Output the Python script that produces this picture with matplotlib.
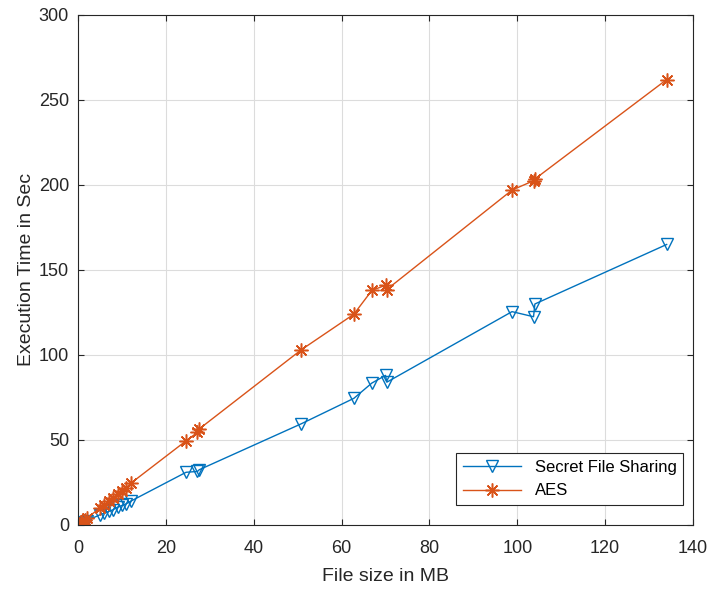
import matplotlib
matplotlib.use('Agg')
import matplotlib.pyplot as plt

# file sizes (MB) and execution times (sec)
file_size = [0.3, 0.6, 1.0, 1.5, 2.0, 5.0, 6.0, 7.0, 8.0, 9.0, 10.0, 11.0, 12.0,
             24.6, 27.2, 27.6, 50.8, 62.8, 66.9, 70.0, 70.3, 98.8, 103.7, 104.0, 134.0]
secret_sharing = [0.4, 0.8, 1.3, 2.0, 2.5, 6.0, 7.0, 8.0, 9.0, 10.5, 11.5, 12.5, 14.0,
                  31.0, 31.5, 32.5, 59.5, 74.5, 83.5, 88.0, 84.0, 125.5, 122.5, 130.0, 165.0]
aes = [0.6, 1.2, 2.0, 3.0, 4.0, 10.0, 12.0, 14.0, 16.0, 18.0, 20.0, 22.0, 24.5,
       49.5, 54.5, 56.5, 103.0, 124.0, 138.0, 141.0, 138.5, 197.0, 202.5, 203.5, 262.0]

plt.rcParams['font.family'] = ['Liberation Sans', 'DejaVu Sans']

fig = plt.figure(figsize=(7.11, 5.92), dpi=100)
ax = fig.add_axes([0.1097, 0.1132, 0.865, 0.8615])

ax.plot(file_size, secret_sharing, color='#0072BD', lw=1.0, marker='v', ms=9,
        mfc='none', mew=1.0, label='Secret File Sharing')
ax.plot(file_size, aes, color='#D95319', lw=1.0, marker=(8, 2, 0), ms=10,
        mew=1.1, label='AES')

ax.set_xlim(0, 140)
ax.set_ylim(0, 300)
ax.set_xticks(range(0, 141, 20))
ax.set_yticks(range(0, 301, 50))
ax.grid(True, color='#dcdcdc', lw=0.8)
ax.set_axisbelow(True)
ax.tick_params(direction='in', top=True, right=True, labelsize=13,
               colors='#262626', length=4)
ax.tick_params(axis='x', pad=10.5)
ax.tick_params(axis='y', pad=6.5)
for s in ax.spines.values():
    s.set_color('#262626')
    s.set_linewidth(0.8)

ax.set_xlabel('File size in MB', fontsize=14, color='#262626', labelpad=8)
ax.set_ylabel('Execution Time in Sec', fontsize=14, color='#262626', labelpad=3)

leg = ax.legend(loc='lower right', bbox_to_anchor=(0.984, 0.039), borderaxespad=0,
                fontsize=12, fancybox=False, edgecolor='#262626', framealpha=1,
                handlelength=3.5)
leg.get_frame().set_linewidth(0.8)

fig.savefig('out.png', dpi=100)
